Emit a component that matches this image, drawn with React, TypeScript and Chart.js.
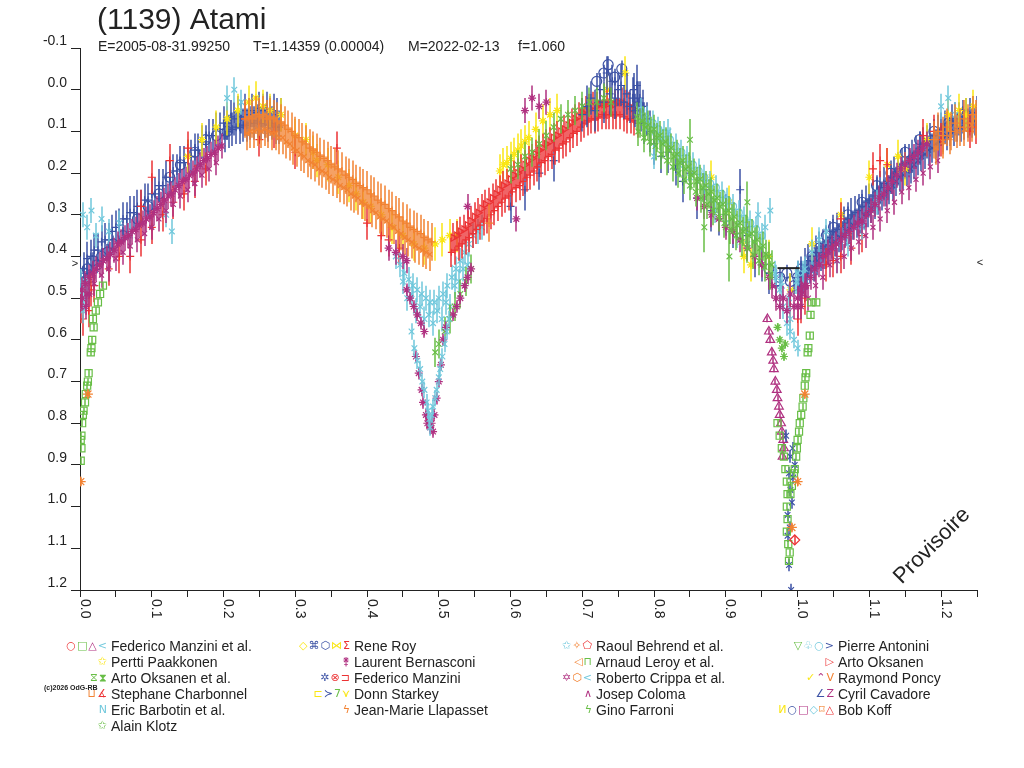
import { useEffect, useRef } from 'react';
import Chart from 'chart.js/auto';

// [phase, magnitude, error] -- error falls back to the series default
type Pt = [number, number, number?];

const RED = 'rgb(236,50,52)';
const GREEN = 'rgb(104,190,70)';
const PURPLE = 'rgb(176,48,128)';
const CYAN = 'rgb(112,200,220)';
const YELLOW = 'rgb(250,230,20)';
const BLUE = 'rgb(60,82,165)';
const ORANGE = 'rgb(242,130,50)';
const INK = '#222';
const FONT = '"Liberation Sans", Arial, sans-serif';

const xTickValues = [0, 0.05, 0.1, 0.15, 0.2, 0.25, 0.3, 0.35, 0.4, 0.45, 0.5, 0.55, 0.6, 0.65, 0.7, 0.75, 0.8, 0.85, 0.9, 0.95, 1.0, 1.05, 1.1, 1.15, 1.2, 1.25];
const xTickLabels = [0, 0.1, 0.2, 0.3, 0.4, 0.5, 0.6, 0.7, 0.8, 0.9, 1.0, 1.1, 1.2];
const yTickValues = [-0.1, 0, 0.1, 0.2, 0.3, 0.4, 0.5, 0.6, 0.7, 0.8, 0.9, 1.0, 1.1, 1.2];

// Rene Roy (blue) - upper side of the rise to the first maximum
const reneRoyRise: Pt[] = [
  [0.000, 0.44], [0.005, 0.43], [0.010, 0.405], [0.015, 0.40], [0.020, 0.385], [0.025, 0.385], [0.030, 0.365], [0.035, 0.36],
  [0.040, 0.36], [0.045, 0.34], [0.050, 0.33], [0.055, 0.325], [0.060, 0.31], [0.065, 0.31], [0.070, 0.295], [0.075, 0.295],
  [0.080, 0.28], [0.085, 0.28], [0.090, 0.265], [0.095, 0.265], [0.100, 0.25], [0.105, 0.25], [0.110, 0.23], [0.115, 0.23],
  [0.120, 0.21], [0.125, 0.21], [0.130, 0.195], [0.135, 0.195], [0.140, 0.175], [0.145, 0.175], [0.150, 0.16], [0.155, 0.16],
  [0.160, 0.145], [0.165, 0.145], [0.170, 0.125], [0.175, 0.125], [0.180, 0.11], [0.185, 0.11], [0.190, 0.095], [0.195, 0.095],
  [0.200, 0.08], [0.205, 0.08], [0.210, 0.065], [0.215, 0.07], [0.220, 0.055], [0.225, 0.065], [0.230, 0.05], [0.235, 0.06],
  [0.240, 0.05], [0.245, 0.055], [0.250, 0.045], [0.255, 0.05], [0.260, 0.045], [0.265, 0.055], [0.270, 0.05], [0.275, 0.06],
  [0.280, 0.06], [0.2025, 0.11], [0.2075, 0.10], [0.2125, 0.095], [0.2175, 0.09], [0.2225, 0.09], [0.2275, 0.085],
  [0.2325, 0.085], [0.2375, 0.08], [0.2425, 0.08], [0.2475, 0.075], [0.2525, 0.08], [0.2575, 0.075], [0.2625, 0.085],
  [0.2675, 0.08], [0.2725, 0.09], [0.2775, 0.09],
];
// Laurent Bernasconi (purple) - middle of the rise
const bernasconiRise: Pt[] = [
  [0.0025, 0.48], [0.0075, 0.465], [0.0125, 0.45], [0.0175, 0.44], [0.0225, 0.43], [0.0275, 0.42], [0.0325, 0.41], [0.0375, 0.405],
  [0.0425, 0.395], [0.0475, 0.385], [0.0525, 0.37], [0.0575, 0.365], [0.0625, 0.355], [0.0675, 0.35], [0.0725, 0.34], [0.0775, 0.335],
  [0.0825, 0.325], [0.0875, 0.32], [0.0925, 0.31], [0.0975, 0.305], [0.1025, 0.295], [0.1075, 0.285], [0.1125, 0.275], [0.1175, 0.265],
  [0.1225, 0.255], [0.1275, 0.25], [0.1325, 0.24], [0.1375, 0.23], [0.1425, 0.22], [0.1475, 0.215], [0.1525, 0.205], [0.1575, 0.20],
  [0.1625, 0.19], [0.1675, 0.18], [0.1725, 0.17], [0.1775, 0.165], [0.1825, 0.155], [0.1875, 0.15], [0.1925, 0.14], [0.1975, 0.135],
];
// Josep Coloma (purple) - lower side of the rises
const colomaRise: Pt[] = [
  [0.000, 0.52], [0.010, 0.49], [0.020, 0.465], [0.030, 0.445], [0.040, 0.43], [0.050, 0.405], [0.060, 0.39], [0.070, 0.375],
  [0.080, 0.36], [0.090, 0.345], [0.100, 0.33], [0.110, 0.31], [0.120, 0.29], [0.130, 0.275], [0.140, 0.255], [0.150, 0.24],
  [0.160, 0.225], [0.170, 0.205], [0.180, 0.19], [0.190, 0.175],
  [1.005, 0.52], [1.015, 0.50], [1.025, 0.47], [1.035, 0.45], [1.045, 0.42], [1.055, 0.41], [1.065, 0.40], [1.075, 0.38],
  [1.085, 0.365], [1.095, 0.35], [1.105, 0.33], [1.115, 0.31], [1.125, 0.29], [1.135, 0.27], [1.145, 0.245], [1.155, 0.235],
  [1.165, 0.215], [1.175, 0.20], [1.185, 0.185], [1.195, 0.17],
];
// Rene Roy (blue) - second maximum
const reneRoyPeak: Pt[] = [
  [0.700, 0.06, 0.04], [0.706, 0.04, 0.05], [0.712, 0.02, 0.04], [0.718, 0.05, 0.05], [0.724, 0.00, 0.04], [0.730, 0.03, 0.05],
  [0.734, -0.04, 0.04], [0.738, 0.01, 0.05], [0.742, -0.02, 0.04], [0.746, 0.02, 0.05], [0.750, 0.00, 0.04], [0.754, -0.01, 0.05],
  [0.758, 0.03, 0.04], [0.762, 0.01, 0.05], [0.766, 0.04, 0.04], [0.770, 0.02, 0.05], [0.774, 0.05, 0.04], [0.778, 0.03, 0.05],
  [0.782, 0.06, 0.04], [0.786, 0.08, 0.05], [0.790, 0.07, 0.04], [0.794, 0.10, 0.05], [0.772, 0.00, 0.04], [0.776, -0.01, 0.05],
  [0.780, 0.02, 0.04], [0.784, 0.04, 0.04],
];
// Rene Roy (blue) - scatter on the rise and the falling branch
const reneRoyScatter: Pt[] = [
  [0.600, 0.28, 0.04], [0.620, 0.24, 0.05], [0.640, 0.20, 0.04], [0.660, 0.17, 0.05],
  [0.800, 0.13, 0.05], [0.810, 0.16, 0.04], [0.820, 0.15, 0.05], [0.830, 0.19, 0.04], [0.840, 0.22, 0.05], [0.850, 0.20, 0.04],
  [0.860, 0.26, 0.05], [0.870, 0.24, 0.04], [0.880, 0.29, 0.05], [0.890, 0.31, 0.04], [0.900, 0.30, 0.05], [0.910, 0.34, 0.04],
  [0.920, 0.24, 0.05], [0.930, 0.35, 0.04], [0.940, 0.40, 0.05], [0.950, 0.42, 0.04], [0.960, 0.44, 0.05], [0.970, 0.47, 0.04],
];
// Rene Roy and Bob Koff (blue) - rise after phase 1.0
const reneRoyReturn: Pt[] = [
  [1.000, 0.45], [1.005, 0.44], [1.010, 0.42], [1.015, 0.41], [1.020, 0.40], [1.025, 0.39], [1.030, 0.38], [1.035, 0.375],
  [1.040, 0.365], [1.045, 0.355], [1.050, 0.34], [1.055, 0.335], [1.060, 0.325], [1.065, 0.32], [1.070, 0.31], [1.075, 0.30],
  [1.080, 0.295], [1.085, 0.29], [1.090, 0.28], [1.095, 0.27], [1.100, 0.265], [1.105, 0.255], [1.110, 0.245], [1.115, 0.235],
  [1.120, 0.225], [1.125, 0.22], [1.130, 0.21], [1.135, 0.20], [1.140, 0.19], [1.145, 0.18], [1.150, 0.175], [1.155, 0.17],
  [1.160, 0.16], [1.165, 0.15], [1.170, 0.14], [1.175, 0.13], [1.180, 0.125], [1.185, 0.12], [1.190, 0.11], [1.195, 0.10],
  [1.200, 0.095], [1.205, 0.09], [1.210, 0.08], [1.215, 0.075], [1.220, 0.07], [1.225, 0.07], [1.230, 0.065], [1.235, 0.06],
  [1.240, 0.06], [1.245, 0.055], [1.250, 0.055],
];
const bobKoffReturn: Pt[] = [
  [1.0025, 0.47], [1.0075, 0.455], [1.0125, 0.445], [1.0175, 0.43], [1.0225, 0.425], [1.0275, 0.41], [1.0325, 0.40], [1.0375, 0.395],
  [1.0425, 0.385], [1.0475, 0.37], [1.0525, 0.365], [1.0575, 0.355], [1.0625, 0.35], [1.0675, 0.34], [1.0725, 0.335], [1.0775, 0.325],
  [1.0825, 0.32], [1.0875, 0.31], [1.0925, 0.30], [1.0975, 0.295], [1.1025, 0.285], [1.1075, 0.275], [1.1125, 0.265], [1.1175, 0.255],
  [1.1225, 0.245], [1.1275, 0.24], [1.1325, 0.23], [1.1375, 0.22], [1.1425, 0.21], [1.1475, 0.205], [1.1525, 0.195], [1.1575, 0.19],
  [1.1625, 0.18], [1.1675, 0.17], [1.1725, 0.16], [1.1775, 0.155], [1.1825, 0.145], [1.1875, 0.14], [1.1925, 0.13], [1.1975, 0.125],
  [1.2025, 0.115], [1.2075, 0.11], [1.2125, 0.10], [1.2175, 0.10], [1.2225, 0.09], [1.2275, 0.09], [1.2325, 0.085], [1.2375, 0.08],
  [1.2425, 0.08], [1.2475, 0.075],
];
// Rene Roy hollow circles around the minima and maxima
const reneRoyCircles: Pt[] = [
  [0.002, 0.46], [0.006, 0.44], [0.010, 0.43], [0.014, 0.45], [0.018, 0.41], [0.024, 0.42], [0.030, 0.40], [0.038, 0.39],
  [0.046, 0.37], [0.060, 0.35], [0.080, 0.31], [0.095, 0.28], [0.110, 0.25], [0.125, 0.21], [0.140, 0.18], [0.160, 0.15],
  [0.175, 0.12], [0.190, 0.11], [0.205, 0.10], [0.720, -0.02], [0.730, -0.04], [0.736, -0.06], [0.745, -0.03], [0.755, -0.05],
  [0.960, 0.43], [0.970, 0.46], [0.975, 0.45], [0.985, 0.44], [0.990, 0.46], [0.995, 0.47], [1.000, 0.45], [1.005, 0.43],
  [1.012, 0.44], [1.020, 0.40], [1.030, 0.38], [1.040, 0.35], [1.050, 0.33], [1.060, 0.34], [1.070, 0.30], [1.090, 0.27],
  [1.110, 0.23], [1.130, 0.20], [1.150, 0.15], [1.170, 0.12], [1.190, 0.10], [1.210, 0.08], [1.230, 0.06],
];

// Laurent Bernasconi (purple) - other branches
const bernasconiBand: Pt[] = [
  [0.430, 0.38], [0.440, 0.39], [0.450, 0.40], [0.455, 0.41],
  [0.540, 0.28], [0.608, 0.31], [0.620, 0.05], [0.630, 0.02], [0.640, 0.04], [0.650, 0.03],
  [0.860, 0.26], [0.870, 0.28], [0.880, 0.30], [0.890, 0.31], [0.900, 0.33], [0.910, 0.34], [0.920, 0.36], [0.930, 0.38],
  [0.940, 0.40], [0.950, 0.42], [0.960, 0.45], [0.965, 0.47], [0.970, 0.50], [0.975, 0.52], [0.980, 0.50], [0.985, 0.53],
  [0.990, 0.49], [0.995, 0.52], [1.000, 0.50], [1.005, 0.48], [1.010, 0.47],
  [1.000, 0.52], [1.006, 0.49], [1.012, 0.47], [1.018, 0.45], [1.024, 0.43], [1.030, 0.42], [1.036, 0.40], [1.042, 0.39],
  [1.048, 0.38], [1.054, 0.37], [1.060, 0.36], [1.066, 0.35], [1.072, 0.34], [1.078, 0.33], [1.084, 0.32], [1.090, 0.315],
  [1.096, 0.30], [1.102, 0.29], [1.108, 0.275], [1.114, 0.26], [1.120, 0.25], [1.126, 0.235], [1.132, 0.22], [1.138, 0.205],
  [1.144, 0.19], [1.150, 0.18], [1.156, 0.17], [1.162, 0.16], [1.168, 0.15], [1.174, 0.14], [1.180, 0.13],
  [0.003, 0.50], [0.008, 0.52], [0.013, 0.49],
];
// Laurent Bernasconi - first minimum
const bernasconiDip: Pt[] = [
  [0.455, 0.48], [0.460, 0.50], [0.465, 0.52], [0.470, 0.54], [0.475, 0.56], [0.480, 0.58], [0.468, 0.64], [0.472, 0.68],
  [0.476, 0.72], [0.478, 0.75], [0.482, 0.78], [0.484, 0.80], [0.488, 0.81], [0.492, 0.82], [0.490, 0.80], [0.494, 0.78],
  [0.497, 0.74], [0.500, 0.70], [0.503, 0.66], [0.506, 0.60], [0.510, 0.57], [0.520, 0.54], [0.525, 0.52], [0.530, 0.50],
  [0.536, 0.47], [0.540, 0.45], [0.545, 0.43],
];

// Raoul Behrend et al. and Jean-Marie Llapasset (orange) - fall after the first maximum
const behrendFall: Pt[] = [
  [0.230, 0.07], [0.235, 0.065], [0.240, 0.07], [0.245, 0.06], [0.250, 0.065], [0.255, 0.06], [0.260, 0.07], [0.265, 0.065],
  [0.270, 0.07], [0.275, 0.075], [0.280, 0.08], [0.285, 0.085], [0.290, 0.095], [0.295, 0.10], [0.300, 0.11], [0.305, 0.115],
  [0.310, 0.125], [0.315, 0.13], [0.320, 0.14], [0.325, 0.145], [0.330, 0.15], [0.335, 0.16], [0.340, 0.165], [0.345, 0.17],
  [0.350, 0.18], [0.355, 0.185], [0.360, 0.19], [0.365, 0.195], [0.370, 0.205], [0.375, 0.21], [0.380, 0.215], [0.385, 0.225],
  [0.390, 0.23], [0.395, 0.235], [0.400, 0.24], [0.405, 0.25], [0.410, 0.255], [0.415, 0.265], [0.420, 0.27], [0.425, 0.275],
  [0.430, 0.285], [0.435, 0.29], [0.440, 0.30], [0.445, 0.305], [0.450, 0.315], [0.455, 0.32], [0.460, 0.33], [0.465, 0.335],
  [0.470, 0.34], [0.475, 0.345], [0.480, 0.355], [0.485, 0.36], [0.490, 0.365],
  [0.570, 0.32], [1.190, 0.12], [1.196, 0.10], [1.202, 0.11], [1.208, 0.09], [1.214, 0.10], [1.220, 0.08], [1.226, 0.09],
  [1.232, 0.07], [1.238, 0.08], [1.244, 0.06], [1.248, 0.07],
];
const llapassetFall: Pt[] = [
  [0.2325, 0.105], [0.2375, 0.10], [0.2425, 0.10], [0.2475, 0.095], [0.2525, 0.10], [0.2575, 0.095], [0.2625, 0.10], [0.2675, 0.105],
  [0.2725, 0.105], [0.2775, 0.115], [0.2825, 0.115], [0.2875, 0.125], [0.2925, 0.13], [0.2975, 0.14], [0.3025, 0.145], [0.3075, 0.155],
  [0.3125, 0.16], [0.3175, 0.17], [0.3225, 0.175], [0.3275, 0.18], [0.3325, 0.19], [0.3375, 0.195], [0.3425, 0.20], [0.3475, 0.21],
  [0.3525, 0.215], [0.3575, 0.22], [0.3625, 0.23], [0.3675, 0.235], [0.3725, 0.24], [0.3775, 0.25], [0.3825, 0.255], [0.3875, 0.26],
  [0.3925, 0.27], [0.3975, 0.275], [0.4025, 0.28], [0.4075, 0.29], [0.4125, 0.295], [0.4175, 0.305], [0.4225, 0.31], [0.4275, 0.315],
  [0.4325, 0.325], [0.4375, 0.33], [0.4425, 0.34], [0.4475, 0.345], [0.4525, 0.355], [0.4575, 0.36], [0.4625, 0.365], [0.4675, 0.375],
  [0.4725, 0.38], [0.4775, 0.385], [0.4825, 0.39], [0.4875, 0.395],
  [1.1925, 0.14], [1.2025, 0.125], [1.2125, 0.115], [1.2225, 0.10], [1.2325, 0.095], [1.2425, 0.085],
];

// Pertti Paakkonen (yellow)
const paakkonenYellow: Pt[] = [
  [0.150, 0.16], [0.170, 0.12], [0.190, 0.09], [0.205, 0.07], [0.220, 0.05], [0.235, 0.03], [0.245, 0.02], [0.255, 0.04],
  [0.265, 0.05], [0.280, 0.06], [0.300, 0.11], [0.315, 0.12], [0.325, 0.15], [0.330, 0.17], [0.345, 0.18], [0.360, 0.21],
  [0.375, 0.23], [0.385, 0.25], [0.395, 0.27], [0.405, 0.28], [0.420, 0.30], [0.435, 0.33], [0.450, 0.35], [0.465, 0.37],
  [0.480, 0.38], [0.495, 0.37], [0.505, 0.36], [0.515, 0.35], [0.525, 0.35],
  [0.585, 0.195], [0.590, 0.18], [0.595, 0.175], [0.600, 0.165], [0.605, 0.155], [0.610, 0.145], [0.615, 0.135], [0.620, 0.125],
  [0.625, 0.115], [0.635, 0.095], [0.645, 0.075], [0.655, 0.06], [0.665, 0.05], [0.735, 0.00], [0.760, -0.04], [0.880, 0.21],
  [0.905, 0.27], [0.925, 0.40], [0.935, 0.42], [0.960, 0.40],
  [0.990, 0.48], [1.020, 0.37], [1.060, 0.30], [1.100, 0.21], [1.125, 0.18], [1.140, 0.16], [1.150, 0.19], [1.180, 0.12],
  [1.210, 0.06], [1.225, 0.05], [1.235, 0.06], [1.245, 0.04],
];

// Arto Oksanen (red) - rise towards the second maximum
const oksanenRise: Pt[] = [
  [0.520, 0.355], [0.525, 0.35], [0.530, 0.34], [0.535, 0.335], [0.540, 0.325], [0.545, 0.315], [0.550, 0.305], [0.555, 0.295],
  [0.560, 0.285], [0.565, 0.275], [0.570, 0.27], [0.575, 0.26], [0.580, 0.25], [0.585, 0.24], [0.590, 0.23], [0.595, 0.225],
  [0.600, 0.215], [0.605, 0.205], [0.610, 0.20], [0.615, 0.19], [0.620, 0.18], [0.625, 0.17], [0.630, 0.165], [0.635, 0.155],
  [0.640, 0.145], [0.645, 0.14], [0.650, 0.13], [0.655, 0.125], [0.660, 0.115], [0.665, 0.11], [0.670, 0.10], [0.675, 0.095],
  [0.680, 0.085], [0.685, 0.08], [0.690, 0.07], [0.695, 0.065], [0.700, 0.055], [0.705, 0.05], [0.710, 0.045], [0.715, 0.04],
  [0.720, 0.04], [0.725, 0.035], [0.730, 0.035], [0.735, 0.035], [0.740, 0.03], [0.745, 0.035], [0.750, 0.03], [0.755, 0.03],
  [0.760, 0.035], [0.765, 0.04], [0.770, 0.045],
];
const oksanenRiseLow: Pt[] = [
  [0.5175, 0.39], [0.5225, 0.385], [0.5275, 0.375], [0.5325, 0.37], [0.5375, 0.36], [0.5425, 0.355], [0.5475, 0.345], [0.5525, 0.335],
  [0.5575, 0.325], [0.5625, 0.315], [0.5675, 0.31], [0.5725, 0.30], [0.5775, 0.29], [0.5825, 0.28], [0.5875, 0.27], [0.5925, 0.26],
  [0.5975, 0.255], [0.6025, 0.245], [0.6075, 0.235], [0.6125, 0.23], [0.6175, 0.22], [0.6225, 0.21], [0.6275, 0.205], [0.6325, 0.195],
  [0.6375, 0.185], [0.6425, 0.175], [0.6475, 0.17], [0.6525, 0.16], [0.6575, 0.155], [0.6625, 0.145], [0.6675, 0.14], [0.6725, 0.13],
  [0.6775, 0.125], [0.6825, 0.115], [0.6875, 0.105], [0.6925, 0.10], [0.6975, 0.09], [0.7025, 0.08], [0.7075, 0.075], [0.7125, 0.07],
  [0.7175, 0.07], [0.7225, 0.065], [0.7275, 0.06], [0.7325, 0.06], [0.7375, 0.06], [0.7425, 0.06], [0.7475, 0.06], [0.7525, 0.06],
  [0.7575, 0.065], [0.7625, 0.07], [0.7675, 0.07], [0.7725, 0.075], [0.7775, 0.08],
];
// Federico Manzini et al. (red) - scattered on the other branches
const manziniRed: Pt[] = [
  [0.002, 0.52], [0.004, 0.55], [0.008, 0.50], [0.012, 0.53], [0.016, 0.48], [0.020, 0.47], [0.040, 0.43], [0.055, 0.40],
  [0.070, 0.40], [0.085, 0.36], [0.100, 0.33], [0.115, 0.30], [0.130, 0.27], [0.145, 0.25], [0.160, 0.22], [0.175, 0.19],
  [0.085, 0.28], [0.100, 0.21], [0.125, 0.17], [0.150, 0.14], [0.230, 0.07], [0.250, 0.12], [0.270, 0.10], [0.300, 0.15],
  [0.358, 0.14], [0.400, 0.32], [0.420, 0.35], [0.430, 0.36], [0.445, 0.38], [0.990, 0.52], [1.000, 0.55], [1.005, 0.52],
  [1.010, 0.50], [1.040, 0.42], [1.050, 0.41], [1.060, 0.40], [1.075, 0.38], [1.090, 0.35], [1.060, 0.31], [1.105, 0.19],
  [1.115, 0.17], [1.125, 0.18], [1.175, 0.11], [1.190, 0.10], [1.200, 0.12], [1.240, 0.10], [1.248, 0.09],
];

// Arto Oksanen et al. (green) - upper edge of the rise and the falling branch
const oksanenGreen: Pt[] = [
  [0.600, 0.19], [0.610, 0.18], [0.620, 0.16], [0.630, 0.15], [0.640, 0.13], [0.650, 0.11], [0.660, 0.09], [0.670, 0.07],
  [0.680, 0.06], [0.690, 0.05], [0.700, 0.04], [0.710, 0.03], [0.720, 0.03], [0.730, 0.02], [0.740, 0.03],
  [0.776, 0.065], [0.780, 0.08], [0.784, 0.075], [0.788, 0.09], [0.792, 0.085], [0.796, 0.10], [0.800, 0.095], [0.804, 0.115],
  [0.808, 0.11], [0.812, 0.13], [0.816, 0.125], [0.820, 0.145], [0.824, 0.14], [0.828, 0.16], [0.832, 0.155], [0.836, 0.175],
  [0.840, 0.17], [0.844, 0.19], [0.848, 0.185], [0.852, 0.205], [0.856, 0.20], [0.860, 0.22], [0.864, 0.215], [0.868, 0.235],
  [0.872, 0.23], [0.876, 0.25], [0.880, 0.245], [0.884, 0.265], [0.888, 0.26], [0.892, 0.28], [0.896, 0.275], [0.900, 0.295],
  [0.904, 0.29], [0.908, 0.31], [0.912, 0.305], [0.916, 0.325], [0.920, 0.32], [0.924, 0.34], [0.928, 0.335], [0.932, 0.35],
  [0.936, 0.345], [0.940, 0.365], [0.944, 0.36], [0.948, 0.38], [0.952, 0.375], [0.956, 0.395], [0.960, 0.40], [0.964, 0.42],
  [0.778, 0.10], [0.786, 0.115], [0.794, 0.125], [0.802, 0.135], [0.810, 0.155], [0.818, 0.17], [0.826, 0.185], [0.834, 0.20],
  [0.842, 0.215], [0.850, 0.23], [0.858, 0.245], [0.866, 0.26], [0.874, 0.275], [0.882, 0.29], [0.890, 0.305], [0.898, 0.32],
  [0.906, 0.335], [0.914, 0.35], [0.922, 0.365], [0.930, 0.38], [0.938, 0.395], [0.946, 0.41], [0.954, 0.425], [0.962, 0.445],
  [0.850, 0.12, 0.05], [0.870, 0.33, 0.06], [0.905, 0.40, 0.06], [0.930, 0.27, 0.05],
  [0.495, 0.63], [0.500, 0.61], [0.508, 0.58], [0.515, 0.55], [0.522, 0.52], [0.530, 0.49], [0.538, 0.46], [0.545, 0.43],
];

// Pierre Antonini (cyan) - upper side of the falling branch
const antoniniFall: Pt[] = [
  [0.782, 0.05], [0.790, 0.07], [0.798, 0.08], [0.806, 0.095], [0.814, 0.105], [0.822, 0.12], [0.830, 0.135], [0.838, 0.15],
  [0.846, 0.165], [0.854, 0.18], [0.862, 0.195], [0.870, 0.21], [0.878, 0.225], [0.886, 0.235], [0.894, 0.25], [0.902, 0.265],
  [0.910, 0.28], [0.918, 0.295], [0.926, 0.31], [0.934, 0.32], [0.942, 0.335], [0.950, 0.35],
];
// Roberto Crippa et al. (cyan)
const crippaCyan: Pt[] = [
  [0.004, 0.30], [0.010, 0.33], [0.016, 0.29], [0.022, 0.35], [0.030, 0.31], [0.040, 0.34], [0.055, 0.32], [0.070, 0.35],
  [0.002, 0.46], [0.006, 0.50], [0.010, 0.48], [0.004, 0.53],
  [0.120, 0.30], [0.128, 0.34], [0.205, 0.02], [0.215, 0.00], [0.225, 0.03],
  [0.440, 0.40], [0.446, 0.42], [0.452, 0.44], [0.458, 0.455], [0.464, 0.47], [0.470, 0.48], [0.476, 0.49], [0.482, 0.50],
  [0.488, 0.51], [0.494, 0.51], [0.500, 0.50], [0.506, 0.49], [0.512, 0.47], [0.518, 0.45], [0.524, 0.43], [0.530, 0.41],
  [0.536, 0.39], [0.542, 0.37], [0.548, 0.35], [0.554, 0.34], [0.560, 0.33], [0.450, 0.46], [0.462, 0.49], [0.474, 0.52],
  [0.486, 0.54], [0.498, 0.53], [0.510, 0.51], [0.522, 0.47], [0.534, 0.43], [0.456, 0.50], [0.468, 0.53], [0.480, 0.55],
  [0.492, 0.56], [0.504, 0.55], [0.516, 0.52], [0.528, 0.46], [0.540, 0.42],
  [0.790, 0.08], [0.800, 0.16], [0.810, 0.12], [0.820, 0.10], [0.835, 0.18], [0.850, 0.21], [0.870, 0.26], [0.885, 0.29],
  [0.900, 0.32], [0.915, 0.35], [0.930, 0.37], [0.945, 0.30], [0.955, 0.33], [0.962, 0.29], [0.968, 0.44], [0.970, 0.45],
  [0.975, 0.48], [0.978, 0.47], [0.980, 0.52], [0.985, 0.56], [0.988, 0.50], [0.990, 0.55], [0.998, 0.46], [1.000, 0.44],
  [1.008, 0.44], [1.010, 0.43], [1.020, 0.39], [1.030, 0.36], [1.040, 0.34], [1.055, 0.41], [1.070, 0.37], [1.090, 0.33],
  [1.110, 0.27], [1.200, 0.04], [1.210, 0.02], [1.220, 0.06],
];
// Eric Barbotin et al. (cyan) - deep first minimum
const barbotinDeep: Pt[] = [
  [0.462, 0.58], [0.466, 0.62], [0.470, 0.65], [0.474, 0.67], [0.477, 0.70], [0.480, 0.72], [0.483, 0.75], [0.485, 0.77],
  [0.487, 0.79], [0.488, 0.81], [0.490, 0.78], [0.492, 0.76], [0.495, 0.74], [0.497, 0.72], [0.500, 0.69], [0.502, 0.67],
  [0.505, 0.64], [0.508, 0.61], [0.511, 0.58], [0.514, 0.55], [0.990, 0.58], [0.995, 0.60], [1.000, 0.62],
];

// Federico Manzini et al. squares (green) in both minima
const manziniSquares: Pt[] = [
  [0.032, 0.47], [0.028, 0.49], [0.025, 0.51], [0.022, 0.53], [0.018, 0.55], [0.019, 0.57], [0.017, 0.60], [0.016, 0.62],
  [0.015, 0.63], [0.012, 0.68], [0.011, 0.70], [0.010, 0.71], [0.008, 0.73], [0.007, 0.75], [0.005, 0.77], [0.004, 0.78],
  [0.003, 0.80], [0.002, 0.83], [0.001, 0.84], [0.002, 0.86], [0.001, 0.89],
  [0.972, 0.80], [0.975, 0.83], [0.978, 0.86], [0.981, 0.88], [0.983, 0.91], [0.985, 0.94], [0.986, 0.97], [0.985, 1.00],
  [0.986, 1.03], [0.985, 1.06], [0.987, 1.09], [0.989, 1.11], [0.988, 1.13],
  [1.026, 0.51], [1.019, 0.51], [1.018, 0.54], [1.017, 0.59], [1.015, 0.62], [1.014, 0.63], [1.012, 0.68], [1.011, 0.69],
  [1.010, 0.71], [1.008, 0.74], [1.007, 0.76], [1.005, 0.78], [1.003, 0.80], [1.002, 0.82], [1.000, 0.84], [0.999, 0.86],
  [0.998, 0.88], [0.996, 0.91], [0.995, 0.92], [0.992, 0.95], [0.990, 0.97],
];
// Federico Manzini et al. triangles (purple) - second minimum, descending side
const manziniTriangles: Pt[] = [
  [0.958, 0.55], [0.960, 0.58], [0.962, 0.60], [0.964, 0.63], [0.966, 0.65], [0.967, 0.67], [0.969, 0.70], [0.971, 0.72],
  [0.972, 0.74], [0.974, 0.76], [0.975, 0.78], [0.977, 0.80], [0.978, 0.82], [0.980, 0.84], [0.981, 0.86], [0.979, 0.88],
];
// Alain Klotz (green stars)
const klotzStars: Pt[] = [[0.972, 0.57], [0.975, 0.60], [0.978, 0.62], [0.981, 0.64], [0.983, 0.61]];
// Federico Manzini (blue) - bottom of the second minimum
const manziniBlue: Pt[] = [
  [0.984, 0.83], [0.993, 0.86], [0.990, 0.88], [0.996, 0.90], [0.988, 0.92], [0.994, 0.93], [0.990, 0.96], [0.992, 0.99],
  [0.986, 1.02], [0.989, 1.05], [0.986, 1.07], [0.988, 1.14], [0.991, 1.20],
];
// Raoul Behrend et al. (orange stars, red pentagon)
const behrendStars: Pt[] = [[0.001, 0.94], [0.011, 0.73], [1.010, 0.73], [1.000, 0.94], [0.992, 1.05]];
const behrendPentagon: Pt[] = [[0.996, 1.08]];
// black bar marked at the second minimum
const blackBar: Pt[] = [[0.972, 0.428], [1.003, 0.428]];
// edge markers outside the plot: [phase, magnitude, glyph]
const edgeMarks: [number, number, string][] = [[-0.007, 0.417, '>'], [1.254, 0.415, '<']];

type Series = { label: string; pts: Pt[]; color: string; style: string; radius: number; err: number; rotation?: number };

// first entry is drawn on top
const series: Series[] = [
  { label: 'Raoul Behrend et al. pentagon', pts: behrendPentagon, color: RED, style: 'rectRot', radius: 5, err: 0.01 },
  { label: 'Raoul Behrend et al. stars', pts: behrendStars, color: ORANGE, style: 'star', radius: 5, err: 0.01 },
  { label: 'Federico Manzini et al. squares', pts: manziniSquares, color: GREEN, style: 'rect', radius: 5, err: 0.008 },
  { label: 'Federico Manzini', pts: manziniBlue, color: BLUE, style: 'crossRot', radius: 4, err: 0.015 },
  { label: 'Federico Manzini et al. triangles', pts: manziniTriangles, color: PURPLE, style: 'triangle', radius: 5, err: 0.008 },
  { label: 'Alain Klotz', pts: klotzStars, color: GREEN, style: 'star', radius: 4, err: 0.01 },
  { label: 'Eric Barbotin et al.', pts: barbotinDeep, color: CYAN, style: 'crossRot', radius: 4, err: 0.02 },
  { label: 'Laurent Bernasconi dip', pts: bernasconiDip, color: PURPLE, style: 'star', radius: 4, err: 0.015 },
  { label: 'Arto Oksanen et al.', pts: oksanenGreen, color: GREEN, style: 'crossRot', radius: 4, err: 0.035 },
  { label: 'Pierre Antonini', pts: antoniniFall, color: CYAN, style: 'circle', radius: 3.5, err: 0.03 },
  { label: 'Rene Roy peak', pts: reneRoyPeak, color: BLUE, style: 'cross', radius: 4, err: 0.04 },
  { label: 'Raoul Behrend et al.', pts: behrendFall, color: ORANGE, style: 'cross', radius: 4, err: 0.045 },
  { label: 'Jean-Marie Llapasset', pts: llapassetFall, color: ORANGE, style: 'crossRot', radius: 3.5, err: 0.04 },
  { label: 'Arto Oksanen', pts: oksanenRise, color: RED, style: 'triangle', radius: 4, err: 0.035, rotation: 90 },
  { label: 'Arto Oksanen low', pts: oksanenRiseLow, color: RED, style: 'cross', radius: 3.5, err: 0.035 },
  { label: 'Laurent Bernasconi', pts: bernasconiRise, color: PURPLE, style: 'star', radius: 4, err: 0.03 },
  { label: 'Laurent Bernasconi band', pts: bernasconiBand, color: PURPLE, style: 'star', radius: 4, err: 0.03 },
  { label: 'Josep Coloma', pts: colomaRise, color: PURPLE, style: 'crossRot', radius: 3.5, err: 0.03 },
  { label: 'Roberto Crippa et al.', pts: crippaCyan, color: CYAN, style: 'crossRot', radius: 4, err: 0.03 },
  { label: 'Federico Manzini et al.', pts: manziniRed, color: RED, style: 'cross', radius: 4, err: 0.04 },
  { label: 'Pertti Paakkonen', pts: paakkonenYellow, color: YELLOW, style: 'star', radius: 4, err: 0.04 },
  { label: 'Rene Roy circles', pts: reneRoyCircles, color: BLUE, style: 'circle', radius: 5, err: 0.02 },
  { label: 'Rene Roy', pts: [...reneRoyRise, ...reneRoyScatter, ...reneRoyReturn], color: BLUE, style: 'cross', radius: 4, err: 0.04 },
  { label: 'Bob Koff', pts: bobKoffReturn, color: BLUE, style: 'crossRot', radius: 3.5, err: 0.035 },
];

type LegendRow = { col: number; row: number; name: string; syms: [string, string][] };
const legendCols = [111, 354, 596, 838];
const legendRows: LegendRow[] = [
  { col: 0, row: 0, name: 'Federico Manzini et al.', syms: [['○', RED], ['□', GREEN], ['△', PURPLE], ['<', CYAN]] },
  { col: 0, row: 1, name: 'Pertti Paakkonen', syms: [['✩', YELLOW]] },
  { col: 0, row: 2, name: 'Arto Oksanen et al.', syms: [['⧖', GREEN], ['⧗', GREEN]] },
  { col: 0, row: 3, name: 'Stephane Charbonnel', syms: [['⊔', ORANGE], ['∡', RED]] },
  { col: 0, row: 4, name: 'Eric Barbotin et al.', syms: [['N', CYAN]] },
  { col: 0, row: 5, name: 'Alain Klotz', syms: [['✩', GREEN]] },
  { col: 1, row: 0, name: 'Rene Roy', syms: [['◇', YELLOW], ['⌘', BLUE], ['⬡', BLUE], ['⋈', YELLOW], ['Σ', RED]] },
  { col: 1, row: 1, name: 'Laurent Bernasconi', syms: [['⚵', PURPLE]] },
  { col: 1, row: 2, name: 'Federico Manzini', syms: [['✲', BLUE], ['⊗', RED], ['⊐', RED]] },
  { col: 1, row: 3, name: 'Donn Starkey', syms: [['⊏', YELLOW], ['≻', BLUE], ['7', GREEN], ['⋎', YELLOW]] },
  { col: 1, row: 4, name: 'Jean-Marie Llapasset', syms: [['ϟ', ORANGE]] },
  { col: 2, row: 0, name: 'Raoul Behrend et al.', syms: [['✩', CYAN], ['✧', ORANGE], ['⬠', RED]] },
  { col: 2, row: 1, name: 'Arnaud Leroy et al.', syms: [['◁', ORANGE], ['⊓', GREEN]] },
  { col: 2, row: 2, name: 'Roberto Crippa et al.', syms: [['✡', PURPLE], ['⬡', ORANGE], ['<', CYAN]] },
  { col: 2, row: 3, name: 'Josep Coloma', syms: [['∧', PURPLE]] },
  { col: 2, row: 4, name: 'Gino Farroni', syms: [['ϟ', GREEN]] },
  { col: 3, row: 0, name: 'Pierre Antonini', syms: [['▽', GREEN], ['♧', CYAN], ['○', CYAN], ['>', BLUE]] },
  { col: 3, row: 1, name: 'Arto Oksanen', syms: [['▷', RED]] },
  { col: 3, row: 2, name: 'Raymond Poncy', syms: [['✓', YELLOW], ['⌃', PURPLE], ['V', ORANGE]] },
  { col: 3, row: 3, name: 'Cyril Cavadore', syms: [['∠', BLUE], ['Z', PURPLE]] },
  { col: 3, row: 4, name: 'Bob Koff', syms: [['И', YELLOW], ['○', BLUE], ['□', PURPLE], ['◇', CYAN], ['⌑', ORANGE], ['△', RED]] },
];

const decorations = {
  id: 'decorations',
  beforeDatasetDraw(chart: any, args: any) {
    const ds = chart.data.datasets[args.index];
    if (!ds.errorBars) return;
    const { ctx, chartArea: a } = chart;
    const y = chart.scales.y;
    ctx.save();
    ctx.beginPath();
    ctx.rect(a.left, a.top, a.right - a.left, a.bottom - a.top);
    ctx.clip();
    ctx.strokeStyle = ds.borderColor;
    ctx.lineWidth = 1.5;
    ctx.beginPath();
    args.meta.data.forEach((el: any, i: number) => {
      const d = ds.data[i];
      const px = Math.round(el.x);
      ctx.moveTo(px, y.getPixelForValue(d.y - d.e));
      ctx.lineTo(px, y.getPixelForValue(d.y + d.e));
    });
    ctx.stroke();
    ctx.restore();
  },
  afterDraw(chart: any) {
    const { ctx } = chart;
    const x = chart.scales.x;
    const y = chart.scales.y;
    ctx.save();
    ctx.fillStyle = INK;
    ctx.textBaseline = 'alphabetic';
    ctx.textAlign = 'left';
    ctx.font = `30px ${FONT}`;
    ctx.fillText('(1139) Atami', 97, 29);
    ctx.font = `14px ${FONT}`;
    ctx.fillText('E=2005-08-31.99250', 98, 51);
    ctx.fillText('T=1.14359 (0.00004)', 253, 51);
    ctx.fillText('M=2022-02-13', 408, 51);
    ctx.fillText('f=1.060', 518, 51);

    // rotated x tick labels, reading downwards from the tick
    xTickLabels.forEach((v) => {
      ctx.save();
      ctx.translate(x.getPixelForValue(v) + 0.5, 599);
      ctx.rotate(Math.PI / 2);
      ctx.fillText(v.toFixed(1), 0, 0);
      ctx.restore();
    });

    ctx.font = `11px ${FONT}`;
    ctx.textAlign = 'center';
    ctx.textBaseline = 'middle';
    edgeMarks.forEach(([p, m, t]) => ctx.fillText(t, x.getPixelForValue(p), y.getPixelForValue(m)));

    ctx.save();
    ctx.translate(932, 546);
    ctx.rotate(-Math.PI / 4);
    ctx.font = `22px ${FONT}`;
    ctx.fillText('Provisoire', 0, 0);
    ctx.restore();

    ctx.font = `bold 7px ${FONT}`;
    ctx.textAlign = 'left';
    ctx.fillText('(c)2026 OdG-RB', 44, 688);
    ctx.restore();
  },
};

export default function App() {
  const canvasRef = useRef<HTMLCanvasElement>(null);
  const chartRef = useRef<Chart | null>(null);

  useEffect(() => {
    if (!canvasRef.current) return;
    if (chartRef.current) chartRef.current.destroy();

    const datasets: any[] = series.map((s, i) => ({
      label: s.label,
      data: s.pts.map(([px, m, e]) => ({ x: px, y: m, e: e ?? s.err })),
      borderColor: s.color,
      backgroundColor: 'rgba(0,0,0,0)',
      pointStyle: s.style,
      pointRadius: s.radius,
      pointBorderWidth: 1.2,
      pointRotation: s.rotation ?? 0,
      showLine: false,
      errorBars: true,
      order: i + 1,
    }));
    datasets.push({
      label: 'bar',
      data: blackBar.map(([px, m]) => ({ x: px, y: m })),
      borderColor: INK,
      borderWidth: 2,
      pointRadius: 0,
      showLine: true,
      errorBars: false,
      order: 0,
    });

    chartRef.current = new Chart(canvasRef.current, {
      type: 'scatter',
      data: { datasets },
      options: {
        animation: false,
        responsive: false,
        devicePixelRatio: 1,
        layout: { padding: { top: 48, right: 47, left: 0, bottom: 0 } },
        plugins: { legend: { display: false }, tooltip: { enabled: false } },
        scales: {
          x: {
            type: 'linear',
            min: 0,
            max: 1.25,
            afterBuildTicks: (s: any) => { s.ticks = xTickValues.map((v) => ({ value: v })); },
            afterFit: (s: any) => { s.height = 178; },
            ticks: { display: false },
            grid: { display: true, drawOnChartArea: false, drawTicks: true, tickLength: 7, color: INK },
            border: { display: true, color: INK, width: 1 },
          },
          y: {
            type: 'linear',
            reverse: true,
            min: -0.1,
            max: 1.2,
            afterBuildTicks: (s: any) => { s.ticks = yTickValues.map((v) => ({ value: v })); },
            afterFit: (s: any) => { s.width = 80; },
            ticks: {
              color: INK,
              font: { family: FONT, size: 14 },
              padding: 4,
              labelOffset: -7,
              callback: (v: any) => Number(v).toFixed(1),
            },
            grid: { display: true, drawOnChartArea: false, drawTicks: true, tickLength: 9, color: INK },
            border: { display: true, color: INK, width: 1 },
          },
        },
      },
      plugins: [decorations],
    });

    return () => {
      if (chartRef.current) {
        chartRef.current.destroy();
        chartRef.current = null;
      }
    };
  }, []);

  return (
    <div style={{ position: 'fixed', left: 0, top: 0, width: 1024, height: 768, background: '#fff', fontFamily: FONT }}>
      <canvas ref={canvasRef} width={1024} height={768} style={{ position: 'absolute', left: 0, top: 0 }} />
      {legendRows.map((r) => (
        <div key={r.name} style={{ position: 'absolute', top: 638 + r.row * 16, left: 0, width: 1024, height: 16 }}>
          <div
            style={{
              position: 'absolute',
              right: 1024 - legendCols[r.col] + 4,
              top: 0,
              lineHeight: '16px',
              fontFamily: '"DejaVu Sans", sans-serif',
              fontSize: 11,
              whiteSpace: 'nowrap',
            }}
          >
            {r.syms.map(([g, c], i) => (
              <span key={i} style={{ color: c, marginLeft: 1 }}>{g}</span>
            ))}
          </div>
          <div style={{ position: 'absolute', left: legendCols[r.col], top: 0, lineHeight: '16px', fontSize: 14, color: INK, whiteSpace: 'nowrap' }}>
            {r.name}
          </div>
        </div>
      ))}
    </div>
  );
}
